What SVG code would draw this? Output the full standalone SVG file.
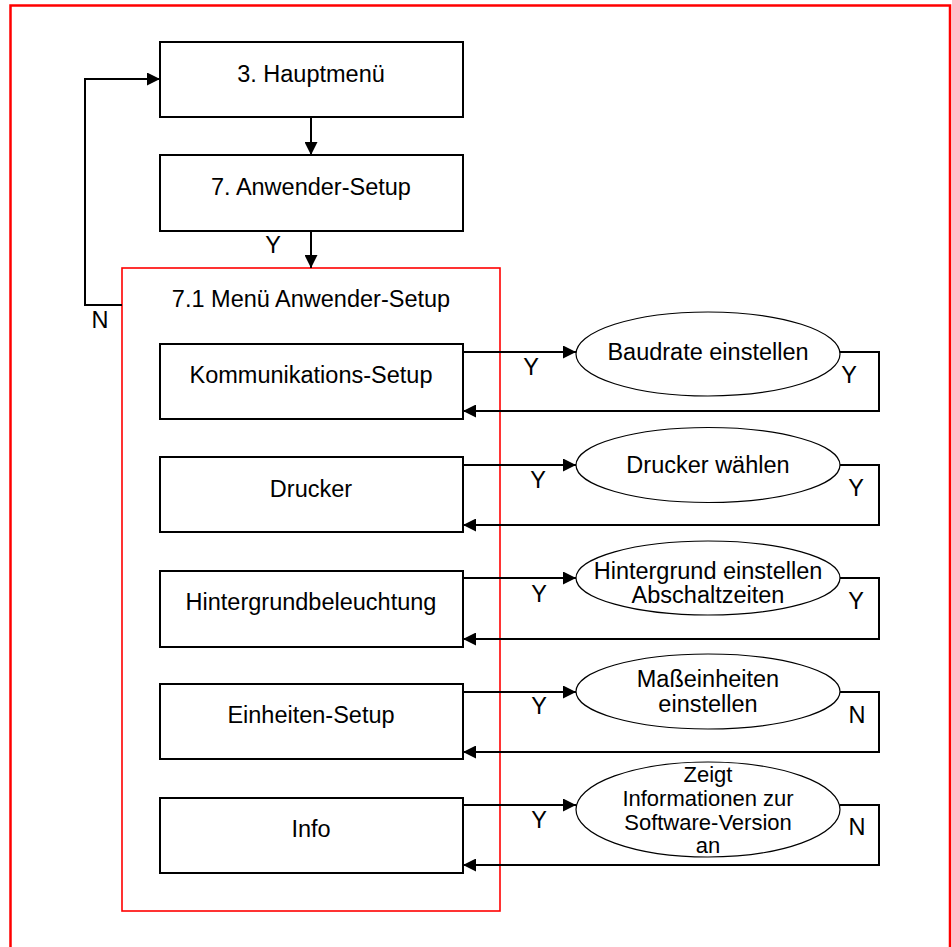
<svg xmlns="http://www.w3.org/2000/svg" width="952" height="947" viewBox="0 0 952 947">
<style>
text{font-family:"Liberation Sans",Arial,sans-serif;font-size:23.5px;fill:#000;text-anchor:middle}
.sm{font-size:22px}
.box{fill:#fff;stroke:#000;stroke-width:2}
.ell{fill:#fff;stroke:#000;stroke-width:1.2}
.con{fill:none;stroke:#000;stroke-width:2}
.red{fill:none;stroke:#f00}
</style>
<defs>
<marker id="ah" viewBox="0 0 13 13" refX="13" refY="6.5" markerWidth="13" markerHeight="13" markerUnits="userSpaceOnUse" orient="auto">
<path d="M0,0 L13,6.5 L0,13 z" fill="#000"/>
</marker>
</defs>
<rect width="952" height="947" fill="#fff"/>
<path class="red" stroke-width="2.5" d="M10.5,947 V5.5 H950 V947"/>
<g id="menu71">
<rect class="red" stroke-width="1.6" x="122" y="268" width="378" height="643"/>
<text x="311" y="307">7.1 Menü Anwender-Setup</text>
</g>
<g id="connectors">
<path class="con" d="M311,117 V155" marker-end="url(#ah)"/>
<path class="con" d="M311,231 V268" marker-end="url(#ah)"/>
<path class="con" d="M122,305 H85 V79 H160" marker-end="url(#ah)"/>
<path class="con" d="M463,352 H576" marker-end="url(#ah)"/>
<path class="con" d="M840,352 H879 V411 H463" marker-end="url(#ah)"/>
<path class="con" d="M463,465 H576" marker-end="url(#ah)"/>
<path class="con" d="M840,465 H879 V525 H463" marker-end="url(#ah)"/>
<path class="con" d="M463,578 H576" marker-end="url(#ah)"/>
<path class="con" d="M840,578 H879 V639 H463" marker-end="url(#ah)"/>
<path class="con" d="M463,692 H576" marker-end="url(#ah)"/>
<path class="con" d="M840,692 H879 V752 H463" marker-end="url(#ah)"/>
<path class="con" d="M463,805 H576" marker-end="url(#ah)"/>
<path class="con" d="M840,805 H879 V865 H463" marker-end="url(#ah)"/>
<text x="273" y="253">Y</text>
<text x="100" y="328">N</text>
<text x="531" y="375">Y</text>
<text x="849" y="383">Y</text>
<text x="538" y="488">Y</text>
<text x="856" y="496">Y</text>
<text x="539" y="602">Y</text>
<text x="856" y="609">Y</text>
<text x="539" y="714">Y</text>
<text x="857" y="723">N</text>
<text x="539" y="828">Y</text>
<text x="857" y="835">N</text>
</g>
<g id="hauptmenue">
<rect class="box" x="160" y="42" width="303" height="75"/>
<text x="311" y="82">3. Hauptmenü</text>
</g>
<g id="anwender-setup">
<rect class="box" x="160" y="155" width="303" height="76"/>
<text x="311" y="195">7. Anwender-Setup</text>
</g>
<g id="kommunikations-setup">
<rect class="box" x="160" y="344" width="303" height="75"/>
<text x="311" y="383">Kommunikations-Setup</text>
</g>
<g id="drucker">
<rect class="box" x="160" y="457" width="303" height="75"/>
<text x="311" y="497">Drucker</text>
</g>
<g id="hintergrundbeleuchtung">
<rect class="box" x="160" y="571" width="303" height="76"/>
<text x="311" y="610">Hintergrundbeleuchtung</text>
</g>
<g id="einheiten-setup">
<rect class="box" x="160" y="684" width="303" height="75"/>
<text x="311" y="723">Einheiten-Setup</text>
</g>
<g id="info">
<rect class="box" x="160" y="798" width="303" height="75"/>
<text x="311" y="837">Info</text>
</g>
<g id="baudrate">
<ellipse class="ell" cx="708" cy="354" rx="132" ry="42"/>
<text x="708" y="360">Baudrate einstellen</text>
</g>
<g id="drucker-waehlen">
<ellipse class="ell" cx="708" cy="465" rx="132" ry="37.5"/>
<text x="708" y="473">Drucker wählen</text>
</g>
<g id="hintergrund-einstellen">
<ellipse class="ell" cx="708" cy="578" rx="132" ry="37"/>
<text x="708" y="579">Hintergrund einstellen</text>
<text x="708" y="603">Abschaltzeiten</text>
</g>
<g id="masseinheiten">
<ellipse class="ell" cx="708" cy="691.5" rx="132" ry="37.5"/>
<text x="708" y="687">Maßeinheiten</text>
<text x="708" y="712">einstellen</text>
</g>
<g id="software-version">
<ellipse class="ell" cx="708" cy="809.5" rx="132" ry="47.5"/>
<text class="sm" x="708" y="782">Zeigt</text>
<text class="sm" x="708" y="806">Informationen zur</text>
<text class="sm" x="708" y="830">Software-Version</text>
<text class="sm" x="708" y="853">an</text>
</g>
</svg>
